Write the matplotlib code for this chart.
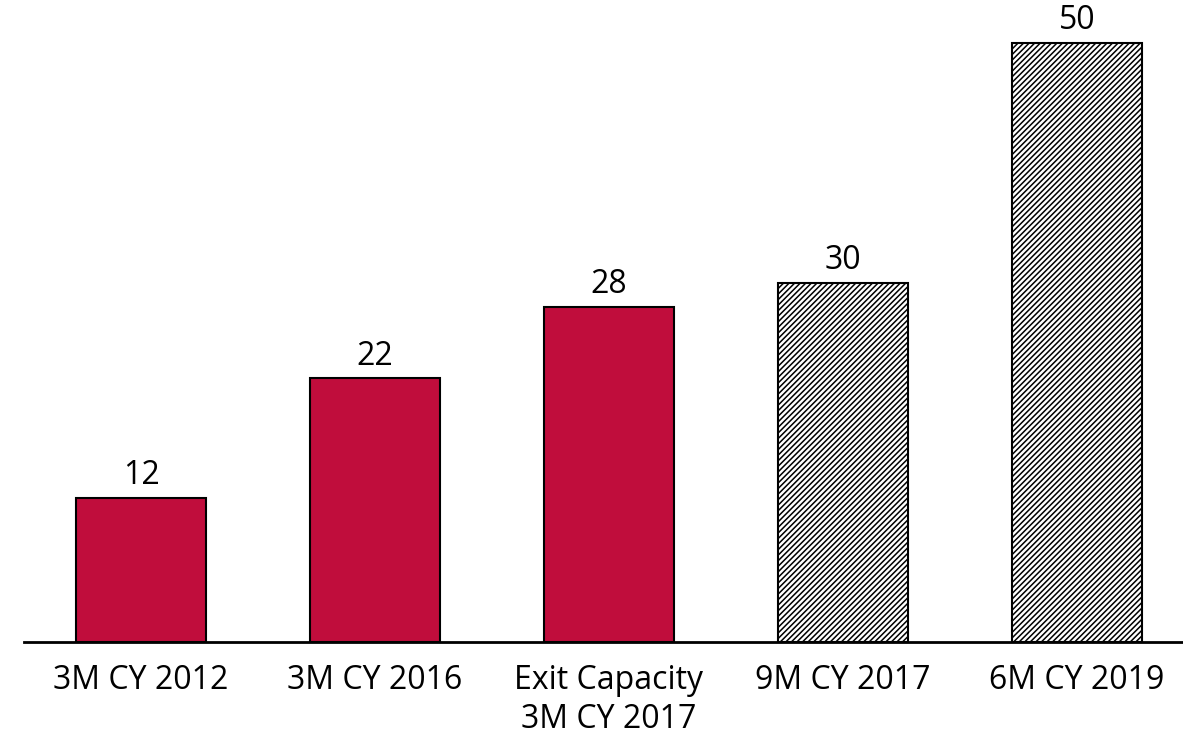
import matplotlib.pyplot as plt

# ---------------------------
# Data
# ---------------------------
categories = ["3M CY 2012", "3M CY 2016", "Exit Capacity\n3M CY 2017", "9M CY 2017", "6M CY 2019"]
values = [12, 22, 28, 30, 50]
projected = [False, False, False, True, True]

plt.rcParams["font.family"] = ["Open Sans", "DejaVu Sans"]
plt.rcParams["hatch.color"] = "#404040"
plt.rcParams["hatch.linewidth"] = 1.1

fig = plt.figure(figsize=(11.83, 7.48), dpi=100)
ax = fig.add_axes([24 / 1183, 106 / 748, 1159 / 1183, 642 / 748])

x = range(len(categories))
for i, (v, p) in enumerate(zip(values, projected)):
    if p:
        ax.bar(i, v, width=0.555, color="white", edgecolor="black", linewidth=1.5, hatch="//////")
    else:
        ax.bar(i, v, width=0.555, color="#C00D3C", edgecolor="black", linewidth=1.5)
    ax.text(i, v + 0.5, str(v), ha="center", va="bottom", fontsize=23)

ax.set_xlim(-0.5, 4.453)
ax.set_ylim(0, 53.6)
ax.set_xticks(list(x))
ax.set_xticklabels(categories, fontsize=23, linespacing=1.22)
ax.tick_params(axis="x", length=0, pad=16)
ax.set_yticks([])
for s in ["top", "right", "left"]:
    ax.spines[s].set_visible(False)
ax.spines["bottom"].set_linewidth(2)

fig.savefig("out.png", dpi=100)
